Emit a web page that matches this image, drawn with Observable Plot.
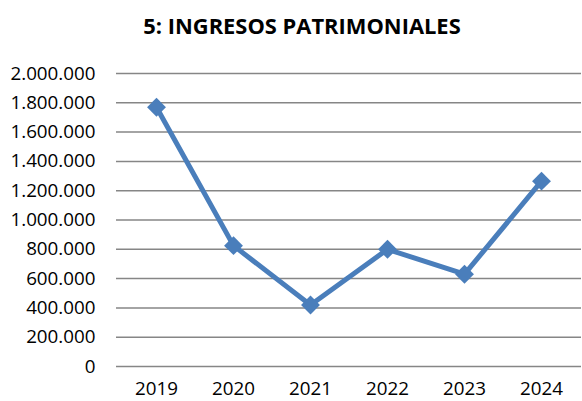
<!DOCTYPE html>
<html>
<head>
<meta charset="utf-8">
<script src="https://cdn.jsdelivr.net/npm/d3@7"></script>
<script src="https://cdn.jsdelivr.net/npm/@observablehq/plot@0.6"></script>
<style>
  html, body { margin: 0; padding: 0; background: #fff; }
  #wrap { width: 582px; height: 401px; position: relative; overflow: hidden; }
  #title { position: absolute; left: 11px; top: 11px; width: 582px; text-align: center; line-height: 30px;
    font-family: "Open Sans", sans-serif; font-weight: 700; font-size: 21.9px; color: #000; }
  #chart { position: absolute; left: 0; top: 50px; }
</style>
</head>
<body>
<div id="wrap">
  <div id="title">5: INGRESOS PATRIMONIALES</div>
  <div id="chart"></div>
</div>
<script>
const years = ["2019", "2020", "2021", "2022", "2023", "2024"];
const values = [1770000, 825000, 420000, 800000, 630000, 1265000];
const yTicks = [0, 200000, 400000, 600000, 800000, 1000000, 1200000, 1400000, 1600000, 1800000, 2000000];

const data = years.map((y, i) => ({year: y, value: values[i]}));
const fmt = d => d3.format(",")(d).replace(/,/g, ".");

const squareDiamond = {
  draw(context, size) {
    const r = Math.sqrt(size) * 0.62625;
    context.moveTo(0, -r);
    context.lineTo(r, 0);
    context.lineTo(0, r);
    context.lineTo(-r, 0);
    context.closePath();
  }
};

const chart = Plot.plot({
  width: 582,
  height: 351,
  marginTop: 23,
  marginBottom: 35,
  marginLeft: 116,
  marginRight: 1,
  style: {fontFamily: "Open Sans, sans-serif", fontSize: "18.8px", color: "#000", background: "#fff"},
  x: {type: "point", domain: years, padding: 0.5, label: null},
  y: {domain: [0, 2000000], label: null},
  marks: [
    Plot.ruleY(yTicks, {stroke: "#868686", strokeWidth: 1.5, strokeOpacity: 1}),
    Plot.axisY(yTicks, {tickSize: 0, tickPadding: 21, tickFormat: fmt, label: null}),
    Plot.axisX({tickSize: 0, tickPadding: 15, label: null}),
    Plot.line(data, {x: "year", y: "value", stroke: "#4a7ebb", strokeWidth: 5, strokeLinejoin: "miter"}),
    Plot.dot(data, {x: "year", y: "value", symbol: squareDiamond, r: 8.5, fill: "#4a7ebb", stroke: "none"})
  ]
});
document.getElementById("chart").appendChild(chart);
</script>
</body>
</html>
